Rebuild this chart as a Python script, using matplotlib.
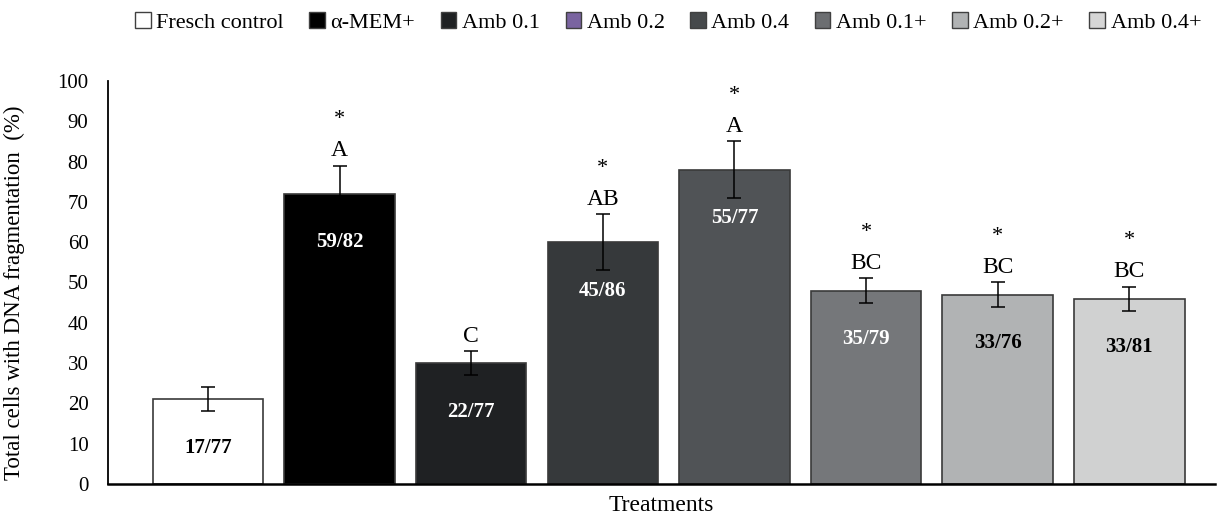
import matplotlib.pyplot as plt
from matplotlib.patches import Patch

plt.rcParams['font.family'] = ['Liberation Serif', 'DejaVu Serif']

# datos
tratamientos = ["Fresch control", "α-MEM+", "Amb 0.1", "Amb 0.2", "Amb 0.4",
                "Amb 0.1+", "Amb 0.2+", "Amb 0.4+"]
valores = [21, 72, 30, 60, 78, 48, 47, 46]
errores = [3, 7, 3, 7, 7, 3, 3, 3]
conteos = ["17/77", "59/82", "22/77", "45/86", "55/77", "35/79", "33/76", "33/81"]
letras = ["", "A", "C", "AB", "A", "BC", "BC", "BC"]
asterisco = [False, True, False, True, True, True, True, True]

colores_barra = ["#ffffff", "#000000", "#1f2123", "#36393b", "#505356",
                 "#75777a", "#b1b3b4", "#d0d1d1"]
colores_leyenda = ["#ffffff", "#000000", "#1f2123", "#7a64a0", "#46494b",
                   "#6c6e71", "#b1b3b4", "#d6d6d6"]
color_texto = ["black", "white", "white", "white", "white", "white", "black", "black"]

fig = plt.figure(figsize=(12.26, 5.19), dpi=100)
ax = fig.add_axes([0.088, 0.0674, 0.903, 0.7766])

x = range(len(valores))
ax.bar(x, valores, width=0.84, color=colores_barra, edgecolor="#3a3a3a", linewidth=1.2)
ax.errorbar(x, valores, yerr=errores, fmt='none', ecolor='black',
            elinewidth=1.1, capsize=5, capthick=1.1)

for i in x:
    top = valores[i] + errores[i]
    if letras[i]:
        ax.annotate(letras[i], (i, top), xytext=(0, 3), textcoords='offset points',
                    ha='center', va='bottom', fontsize=17)
    if asterisco[i]:
        ax.annotate("*", (i, top), xytext=(0, 26), textcoords='offset points',
                    ha='center', va='bottom', fontsize=16)
    ax.annotate(conteos[i], (i, valores[i]), xytext=(0, -35), textcoords='offset points',
                ha='center', va='center', fontsize=15, fontweight='bold',
                color=color_texto[i])

ax.set_xlim(-0.76, 7.65)
ax.set_ylim(0, 100)
ax.set_yticks(range(0, 101, 10))
ax.set_xticks([])
ax.tick_params(axis='y', length=0, pad=14, labelsize=15)
ax.spines['top'].set_visible(False)
ax.spines['right'].set_visible(False)
ax.spines['left'].set_linewidth(1.3)
ax.spines['bottom'].set_linewidth(1.8)
ax.set_ylabel("Total cells with DNA fragmentation  (%)", fontsize=16.5, labelpad=16)
ax.yaxis.set_label_coords(-0.075, 0.475)
ax.set_xlabel("Treatments", fontsize=17, labelpad=8)

handles = [Patch(facecolor=c, edgecolor="#404040", linewidth=1) for c in colores_leyenda]
fig.legend(handles, tratamientos, loc='upper center', bbox_to_anchor=(0.545, 1.015),
           ncol=8, frameon=False, fontsize=16, handlelength=0.7, handleheight=0.7,
           handletextpad=0.25, columnspacing=1.15)

fig.savefig("out.png", dpi=100)
